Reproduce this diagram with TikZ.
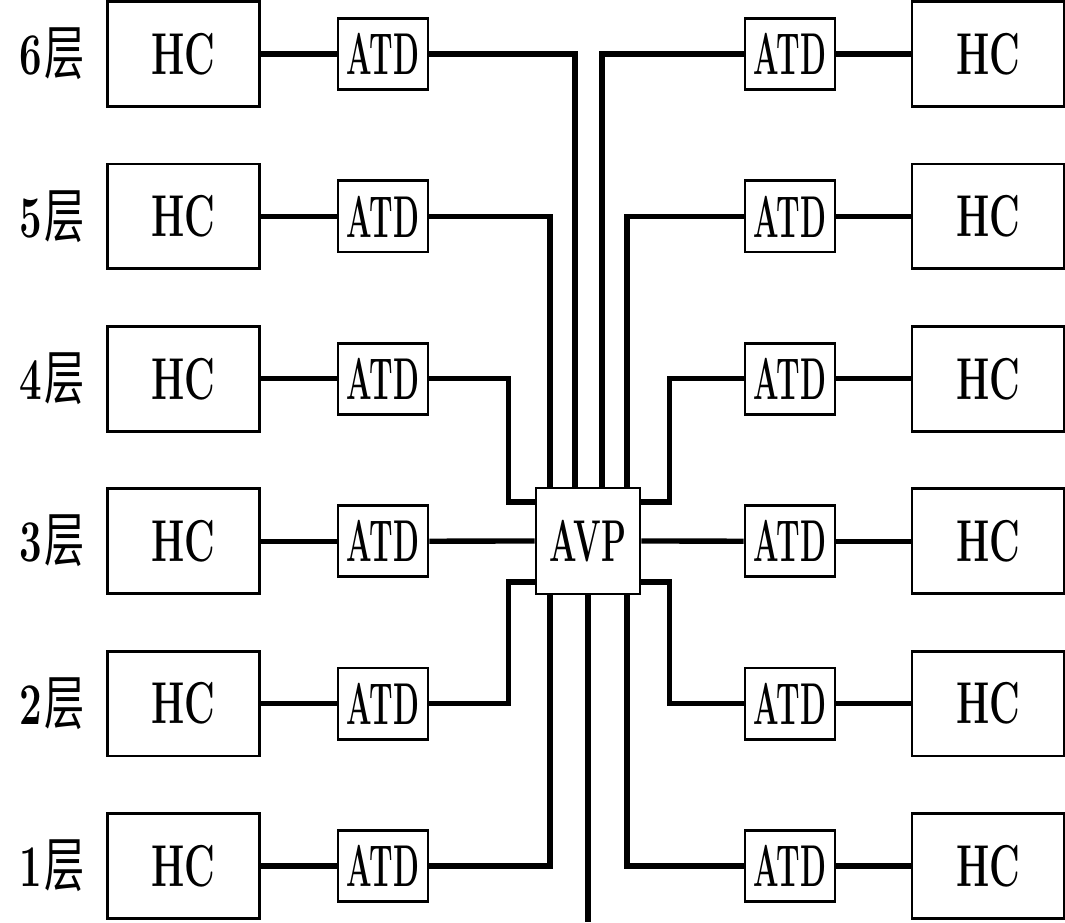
\documentclass[tikz,border=0pt]{standalone}
\usepackage{fontspec}
\usepackage{graphicx}
\newfontfamily\cjk{Noto Sans CJK SC}
\newcommand{\squeeze}[2][0.7]{\scalebox{#1}[1]{#2}}
\tikzset{
  hcbox/.style={draw,line width=2.1pt,minimum width=3.8cm,minimum height=2.62cm,inner sep=0pt},
  atdbox/.style={draw,line width=2.1pt,minimum width=2.25cm,minimum height=1.78cm,inner sep=0pt},
  avpbox/.style={draw,line width=2.1pt,minimum width=2.6cm,minimum height=2.65cm,inner sep=0pt},
  wire/.style={line width=3.8pt}
}

\begin{document}
\begin{tikzpicture}[x=1cm,y=1cm,font=\fontsize{42}{42}\selectfont\bfseries]
\useasboundingbox (0,0) rectangle (26.625,23.05);
\node (lab6) at (1.3,21.7) {\squeeze[0.68]{6\kern2pt{\cjk\mdseries 层}}};
\node (lab5) at (1.3,17.64) {\squeeze[0.68]{5\kern2pt{\cjk\mdseries 层}}};
\node (lab4) at (1.3,13.58) {\squeeze[0.68]{4\kern2pt{\cjk\mdseries 层}}};
\node (lab3) at (1.3,9.52) {\squeeze[0.68]{3\kern2pt{\cjk\mdseries 层}}};
\node (lab2) at (1.3,5.46) {\squeeze[0.68]{2\kern2pt{\cjk\mdseries 层}}};
\node (lab1) at (1.3,1.4) {\squeeze[0.68]{1\kern2pt{\cjk\mdseries 层}}};

\node[hcbox] (hcL6) at (4.59,21.7) {\squeeze[0.64]{HC}};
\node[hcbox] (hcL5) at (4.59,17.64) {\squeeze[0.64]{HC}};
\node[hcbox] (hcL4) at (4.59,13.58) {\squeeze[0.64]{HC}};
\node[hcbox] (hcL3) at (4.59,9.52) {\squeeze[0.64]{HC}};
\node[hcbox] (hcL2) at (4.59,5.46) {\squeeze[0.64]{HC}};
\node[hcbox] (hcL1) at (4.59,1.4) {\squeeze[0.64]{HC}};

\node[atdbox] (atdL6) at (9.575,21.7) {\squeeze[0.51]{ATD}};
\node[atdbox] (atdL5) at (9.575,17.64) {\squeeze[0.51]{ATD}};
\node[atdbox] (atdL4) at (9.575,13.58) {\squeeze[0.51]{ATD}};
\node[atdbox] (atdL3) at (9.575,9.52) {\squeeze[0.51]{ATD}};
\node[atdbox] (atdL2) at (9.575,5.46) {\squeeze[0.51]{ATD}};
\node[atdbox] (atdL1) at (9.575,1.4) {\squeeze[0.51]{ATD}};

\node[avpbox] (avp) at (14.7,9.525) {\squeeze[0.55]{AVP}};

\node[atdbox] (atdR6) at (19.75,21.7) {\squeeze[0.51]{ATD}};
\node[atdbox] (atdR5) at (19.75,17.64) {\squeeze[0.51]{ATD}};
\node[atdbox] (atdR4) at (19.75,13.58) {\squeeze[0.51]{ATD}};
\node[atdbox] (atdR3) at (19.75,9.52) {\squeeze[0.51]{ATD}};
\node[atdbox] (atdR2) at (19.75,5.46) {\squeeze[0.51]{ATD}};
\node[atdbox] (atdR1) at (19.75,1.4) {\squeeze[0.51]{ATD}};

\node[hcbox] (hcR6) at (24.7,21.7) {\squeeze[0.64]{HC}};
\node[hcbox] (hcR5) at (24.7,17.64) {\squeeze[0.64]{HC}};
\node[hcbox] (hcR4) at (24.7,13.58) {\squeeze[0.64]{HC}};
\node[hcbox] (hcR3) at (24.7,9.52) {\squeeze[0.64]{HC}};
\node[hcbox] (hcR2) at (24.7,5.46) {\squeeze[0.64]{HC}};
\node[hcbox] (hcR1) at (24.7,1.4) {\squeeze[0.64]{HC}};

\coordinate (out) at (14.7,0);

\draw[wire] (hcL6.east) -- (atdL6.west);
\draw[wire] (hcL5.east) -- (atdL5.west);
\draw[wire] (hcL4.east) -- (atdL4.west);
\draw[wire] (hcL3.east) -- (atdL3.west);
\draw[wire] (hcL2.east) -- (atdL2.west);
\draw[wire] (hcL1.east) -- (atdL1.west);
\draw[wire] (atdR6.east) -- (hcR6.west);
\draw[wire] (atdR5.east) -- (hcR5.west);
\draw[wire] (atdR4.east) -- (hcR4.west);
\draw[wire] (atdR3.east) -- (hcR3.west);
\draw[wire] (atdR2.east) -- (hcR2.west);
\draw[wire] (atdR1.east) -- (hcR1.west);

\draw[wire] (atdL6.east) -| ([xshift=-3.25mm]avp.north);
\draw[wire] (atdL5.east) -| ([xshift=-9.5mm]avp.north);
\draw[wire] (atdL4.east) -| ([shift={(-6.5mm,9.75mm)}]avp.west) -- ([yshift=9.75mm]avp.west);
\draw[wire] (atdL3.east) -- (avp.west);
\draw[wire] (atdL2.east) -| ([shift={(-6.5mm,-10.25mm)}]avp.west) -- ([yshift=-10.25mm]avp.west);
\draw[wire] (atdL1.east) -| ([xshift=-9.5mm]avp.south);
\draw[wire] (atdR6.west) -| ([xshift=3.5mm]avp.north);
\draw[wire] (atdR5.west) -| ([xshift=9.75mm]avp.north);
\draw[wire] (atdR4.west) -| ([shift={(7mm,9.75mm)}]avp.east) -- ([yshift=9.75mm]avp.east);
\draw[wire] (avp.east) -- (atdR3.west);
\draw[wire] (atdR2.west) -| ([shift={(7mm,-10.25mm)}]avp.east) -- ([yshift=-10.25mm]avp.east);
\draw[wire] (atdR1.west) -| ([xshift=9.75mm]avp.south);
\draw[wire] (avp.south) -- (out);
\end{tikzpicture}
\end{document}
